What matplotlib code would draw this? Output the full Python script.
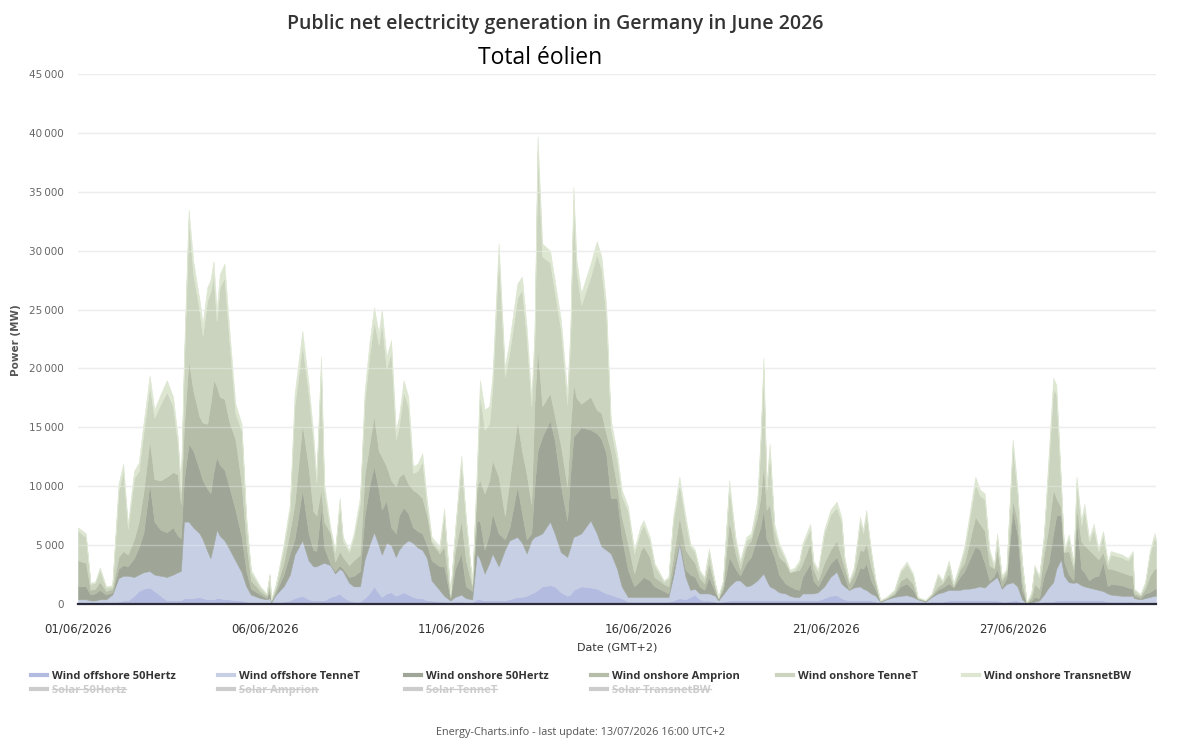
import numpy as np
import matplotlib
matplotlib.use("Agg")
import matplotlib.pyplot as plt
from matplotlib.lines import Line2D
from matplotlib.ticker import FuncFormatter, MultipleLocator

# hours since 01/06/2026 00:00 (GMT+2)
hours = [0, 5, 8, 11, 14, 18, 22, 26, 29, 32,
         36, 39, 42, 46, 49, 53, 57, 61, 64, 66,
         68, 71, 74, 78, 80, 83, 85, 87, 89, 91,
         94, 97, 101, 105, 108, 111, 117, 121, 123, 124,
         127, 132, 136, 139, 144, 148, 151, 153, 156, 158,
         162, 165, 168, 170, 174, 177, 181, 184, 187, 190,
         193, 195, 198, 201, 204, 206, 209, 212, 215, 218,
         221, 224, 227, 232, 235, 239, 242, 246, 249, 253,
         256, 258, 261, 264, 266, 270, 274, 277, 282, 285,
         288, 291, 293, 295, 298, 303, 306, 310, 314, 316,
         318, 320, 323, 329, 333, 336, 339, 342, 346, 349,
         353, 357, 361, 363, 367, 370, 376, 379, 382, 386,
         390, 393, 396, 399, 402, 405, 409, 411, 414, 418,
         422, 425, 429, 432, 436, 438, 440, 442, 444, 447,
         450, 454, 457, 460, 463, 465, 470, 472, 475, 479,
         483, 487, 490, 492, 495, 498, 502, 504, 506, 509,
         512, 515, 519, 524, 528, 532, 536, 539, 544, 548,
         552, 555, 559, 562, 566, 569, 572, 576, 579, 582,
         585, 588, 590, 593, 596, 600, 603, 606, 609, 612,
         614, 617, 620, 623, 626, 628, 631, 633, 636, 639,
         641, 644, 646, 649, 652, 655, 658, 661, 663, 670,
         674, 677, 678, 682, 685, 688, 691, 692]

# stacked levels (MW), bottom layer first
offshore_50hertz = [150, 150, 100, 100, 100, 100, 100, 200, 300, 300,
                    700, 1100, 1300, 1400, 1100, 700, 300, 300, 300, 300,
                    500, 500, 500, 600, 500, 400, 400, 400, 500, 500,
                    400, 400, 300, 300, 200, 150, 100, 100, 100, 50,
                    100, 200, 300, 500, 700, 400, 300, 300, 300, 300,
                    600, 700, 900, 600, 300, 200, 200, 500, 900, 1500,
                    900, 600, 900, 1000, 700, 800, 1000, 800, 600, 500,
                    500, 300, 300, 200, 200, 100, 200, 200, 150, 150,
                    400, 400, 300, 300, 300, 300, 300, 400, 600, 600,
                    700, 900, 1000, 1200, 1500, 1600, 1500, 1000, 700, 800,
                    1200, 1300, 1500, 1400, 1300, 1100, 900, 800, 600, 500,
                    200, 200, 200, 200, 200, 200, 200, 200, 300, 500,
                    400, 600, 800, 400, 300, 300, 200, 100, 200, 300,
                    300, 300, 300, 300, 300, 300, 300, 300, 300, 300,
                    300, 300, 300, 300, 300, 300, 300, 300, 300, 500,
                    700, 750, 500, 400, 300, 300, 300, 300, 300, 300,
                    200, 100, 100, 200, 200, 200, 200, 100, 100, 200,
                    200, 200, 300, 300, 300, 300, 300, 300, 300, 300,
                    300, 300, 300, 200, 200, 300, 300, 100, 20, 50,
                    50, 100, 200, 200, 200, 300, 300, 300, 300, 300,
                    300, 300, 300, 300, 300, 300, 300, 200, 200, 200,
                    200, 200, 150, 100, 150, 150, 150, 150]

top_offshore_tennet = [400, 400, 300, 300, 400, 400, 800, 2200, 2400, 2400,
                       2300, 2500, 2700, 2800, 2500, 2400, 2300, 2500, 2700, 2800,
                       7000, 7000, 6500, 6000, 5500, 4500, 3900, 5000, 6300, 5800,
                       5400, 4700, 3700, 2700, 1500, 800, 500, 400, 500, 150,
                       800, 1500, 2500, 4200, 5400, 3700, 3200, 3200, 3400, 3500,
                       3300, 2600, 3000, 2800, 1800, 1500, 1500, 3800, 5000, 6100,
                       5000, 4200, 5200, 5000, 4000, 4600, 5100, 5400, 5200, 4800,
                       4600, 3900, 2000, 1200, 700, 300, 600, 800, 500, 400,
                       4300, 3800, 2600, 3500, 4300, 3200, 4600, 5400, 5700, 5200,
                       4300, 5400, 5700, 5800, 6000, 7000, 6000, 4400, 4000, 4800,
                       5700, 5800, 6000, 7100, 6000, 4900, 4600, 4300, 3000, 1500,
                       600, 600, 600, 600, 600, 600, 600, 600, 2300, 5150,
                       2300, 1200, 1300, 900, 900, 900, 700, 300, 800, 1500,
                       2000, 2000, 1500, 1600, 2000, 2300, 2600, 2000, 1500, 1300,
                       1000, 900, 700, 600, 600, 900, 900, 900, 1000, 1500,
                       2300, 2750, 1750, 1500, 1200, 1400, 1500, 1300, 1200, 900,
                       700, 200, 400, 600, 700, 750, 600, 400, 200, 600,
                       900, 1000, 1200, 1200, 1200, 1300, 1300, 1400, 1500, 1400,
                       1800, 2100, 2300, 1300, 1700, 1850, 1500, 400, 60, 150,
                       200, 300, 800, 1400, 1850, 3000, 3800, 2400, 1850, 1800,
                       1850, 1600, 1500, 1400, 1300, 1200, 1100, 900, 800, 700,
                       700, 700, 500, 400, 500, 600, 700, 700]

top_onshore_50hertz = [1500, 1500, 800, 900, 1200, 800, 1000, 3000, 3300, 3200,
                       3900, 4800, 6000, 10200, 7000, 6300, 6100, 6500, 5800, 5600,
                       10500, 13600, 13000, 11400, 10500, 9800, 9400, 11200, 12500, 11800,
                       11400, 10000, 8000, 5700, 2800, 1300, 800, 500, 1000, 200,
                       1000, 2500, 4300, 5500, 9700, 6000, 4600, 4500, 8200, 4800,
                       3400, 2800, 3300, 3000, 2300, 2400, 2800, 7500, 10000, 11700,
                       9700, 8000, 8800, 6500, 6000, 7500, 8200, 7700, 6500, 6200,
                       6000, 5000, 3700, 3200, 3200, 500, 3000, 4300, 1500, 1100,
                       7100, 7000, 4600, 6000, 7700, 6000, 5500, 6500, 10000, 7700,
                       5500, 6000, 10000, 13000, 14200, 15600, 13900, 10000, 7100, 11000,
                       14200, 14500, 15000, 14800, 14500, 14000, 12800, 9000, 9000, 5700,
                       2900, 1500, 2000, 2300, 2000, 1500, 1100, 900, 3000, 5400,
                       2900, 2500, 2300, 1500, 1200, 2300, 1000, 450, 1200, 4000,
                       3000, 2400, 3500, 4000, 5700, 6500, 8000, 5500, 5000, 4000,
                       2500, 1750, 1500, 1300, 1200, 2300, 3450, 2000, 1500, 2500,
                       3450, 4000, 3000, 2300, 1200, 1800, 3100, 3000, 3450, 2000,
                       1200, 250, 450, 800, 1500, 1750, 1200, 450, 280, 700,
                       1200, 1400, 1750, 1400, 2300, 2800, 3700, 4900, 4600, 3500,
                       2000, 2400, 3000, 1500, 2200, 7900, 5900, 1200, 80, 300,
                       600, 500, 2400, 3500, 6000, 7500, 7600, 3600, 2500, 2000,
                       7100, 3000, 2700, 2000, 2300, 2400, 3600, 1500, 1700, 1600,
                       1400, 1300, 700, 500, 900, 1000, 1300, 1300]

top_onshore_amprion = [3700, 3500, 1200, 1300, 1900, 1100, 1300, 4000, 4500, 4200,
                       5500, 7000, 9500, 13900, 10600, 10500, 10800, 11200, 11000, 8500,
                       15000, 20700, 18100, 15900, 15400, 15300, 17000, 19000, 18500, 17600,
                       17400, 15500, 14000, 10200, 5200, 2000, 1100, 700, 1600, 300,
                       1300, 3500, 6200, 8500, 15300, 11600, 7900, 7500, 9700, 7000,
                       6000, 3600, 4500, 4000, 3300, 3700, 4200, 11000, 13500, 16000,
                       13000, 12500, 11700, 10500, 10000, 10800, 11100, 10200, 9700, 9400,
                       9000, 7500, 5200, 4300, 4900, 600, 4500, 7100, 3700, 1500,
                       10000, 10500, 9400, 10500, 12200, 10800, 7500, 10500, 15600, 13000,
                       11000, 8500, 17000, 21800, 16800, 17900, 16000, 13400, 10000, 15000,
                       18700, 17500, 17000, 17600, 16500, 16200, 14500, 13000, 10000, 7400,
                       5150, 2600, 4500, 4900, 4000, 2300, 1700, 1500, 4000, 7400,
                       4600, 4000, 3500, 2200, 1750, 3500, 1400, 500, 1500, 7100,
                       4300, 2900, 4900, 5400, 7400, 9000, 11900, 8000, 8500, 5400,
                       4000, 3500, 2700, 2800, 2900, 3450, 5150, 3000, 2000, 3500,
                       4600, 5400, 4000, 3100, 1750, 2500, 4600, 4500, 5150, 3200,
                       1750, 280, 500, 900, 2000, 2300, 1700, 500, 300, 800,
                       1500, 1750, 2600, 1500, 2900, 3500, 5150, 7400, 6800, 6200,
                       3300, 3000, 4700, 2000, 2600, 8800, 7100, 1850, 90, 600,
                       1700, 1300, 4200, 6500, 9700, 9000, 8200, 4400, 4500, 3000,
                       8200, 5300, 5000, 4600, 4200, 3800, 4400, 3000, 3000, 2700,
                       2500, 2400, 900, 700, 1300, 2400, 3000, 3000]

top_onshore_tennet = [6200, 5700, 1700, 1800, 2900, 1400, 1500, 9600, 11300, 6400,
                      10700, 11300, 14500, 18500, 15800, 17000, 18000, 16800, 13600, 9500,
                      20000, 32500, 28000, 24800, 22800, 25800, 26500, 27900, 24000, 26900,
                      27700, 22500, 16200, 14700, 7000, 2700, 1400, 850, 2400, 380,
                      1600, 4800, 8000, 16800, 22000, 17800, 13800, 10300, 20000, 9700,
                      6200, 4400, 8500, 5400, 4400, 5700, 8600, 17300, 21000, 24000,
                      22000, 23900, 20000, 21400, 14000, 15100, 18000, 16700, 11100, 11300,
                      12100, 8300, 5400, 4600, 7700, 850, 6000, 12000, 7000, 1700,
                      10700, 17800, 14800, 15300, 18300, 29600, 19300, 21400, 26000, 26700,
                      22500, 16800, 22000, 38500, 29500, 29000, 26500, 23200, 17000, 22300,
                      34300, 28200, 25400, 27800, 29700, 28400, 24500, 14900, 12200, 9200,
                      7900, 4300, 6200, 6700, 5400, 3300, 1900, 2200, 7000, 10200,
                      7000, 4900, 4400, 2750, 2200, 4400, 1650, 570, 1900, 9900,
                      5400, 3500, 5400, 5700, 8300, 13200, 20000, 9700, 12900, 6400,
                      4900, 3800, 2750, 2900, 3500, 4900, 6400, 3500, 2750, 6000,
                      7600, 8200, 7000, 3800, 1900, 2900, 7000, 6000, 7600, 4400,
                      1900, 320, 570, 1150, 2750, 3400, 2450, 570, 320, 850,
                      2450, 1900, 3500, 1650, 3250, 4600, 7000, 10200, 9200, 8900,
                      4450, 3100, 5700, 2250, 2850, 13400, 9400, 3400, 95, 950,
                      3100, 2250, 5600, 11800, 18300, 17800, 10000, 4450, 5600, 3400,
                      10300, 6700, 8000, 5300, 6400, 4450, 5900, 3400, 4200, 3950,
                      3700, 4250, 1200, 800, 1750, 4250, 5700, 5200]

total = [6500, 6000, 1800, 1900, 3100, 1500, 1600, 10200, 11900, 6800,
         11300, 12000, 15300, 19400, 16500, 17800, 19000, 17600, 14200, 10000,
         21000, 33500, 29100, 25800, 23800, 26900, 27500, 29100, 24900, 28000,
         28900, 23500, 17000, 15300, 7400, 2900, 1500, 900, 2600, 400,
         1700, 5100, 8500, 17800, 23200, 18700, 14500, 10800, 21000, 10200,
         6500, 4600, 9000, 5700, 4600, 6000, 9100, 18100, 22100, 25200,
         23000, 25000, 21000, 22400, 14800, 15900, 19000, 17600, 11700, 11900,
         12800, 8800, 5700, 4900, 8100, 900, 6300, 12600, 7400, 1800,
         11400, 19000, 16500, 16800, 19300, 30600, 20100, 22400, 27200, 27800,
         23500, 17600, 23000, 39700, 30600, 30000, 27500, 24100, 17900, 23300,
         35400, 29200, 26400, 28900, 30800, 29500, 25500, 15600, 12800, 9700,
         8300, 4600, 6600, 7100, 5700, 3500, 2000, 2300, 7400, 10800,
         7400, 5150, 4600, 2900, 2300, 4700, 1750, 600, 2000, 10500,
         5700, 3700, 5700, 6000, 8800, 13900, 20900, 10200, 13600, 6800,
         5150, 4000, 2900, 3100, 3700, 5150, 6800, 3700, 2900, 6300,
         8000, 8700, 7400, 4000, 2000, 3100, 7400, 6300, 8000, 4600,
         2000, 340, 600, 1200, 2900, 3600, 2600, 600, 340, 900,
         2600, 2000, 3700, 1750, 3450, 4900, 7400, 10800, 9700, 9400,
         4700, 3300, 6000, 2400, 3000, 14000, 9900, 3600, 100, 1000,
         3300, 2400, 5900, 12500, 19200, 18600, 10500, 4700, 5900, 3600,
         10800, 7100, 8500, 5600, 6800, 4700, 6200, 3600, 4500, 4200,
         3900, 4500, 1300, 840, 1850, 4500, 6000, 5500]

series_names = ["Wind offshore 50Hertz", "Wind offshore TenneT", "Wind onshore 50Hertz",
                "Wind onshore Amprion", "Wind onshore TenneT", "Wind onshore TransnetBW"]
hidden_names = ["Solar 50Hertz", "Solar Amprion", "Solar TenneT", "Solar TransnetBW"]
tick_hours = [0, 120, 240, 360, 480, 600]
tick_labels = ["01/06/2026", "06/06/2026", "11/06/2026", "16/06/2026", "21/06/2026", "27/06/2026"]

colors = ["#b3bbe0", "#c6cfe4", "#9fa597", "#b5bda8", "#cad4be", "#dce6d1"]

levels = np.array([offshore_50hertz, top_offshore_tennet, top_onshore_50hertz,
                   top_onshore_amprion, top_onshore_tennet, total], dtype=float)
series = np.diff(np.vstack([np.zeros(len(hours)), levels]), axis=0).clip(min=0)

W, H = 1183, 746
fig = plt.figure(figsize=(W / 100, H / 100), dpi=100)
ax = fig.add_axes([78 / W, 1 - 604 / H, (1156 - 78) / W, (604 - 74) / H])

for y in range(5000, 45001, 5000):
    ax.axhline(y, color="#e6e6e6", lw=1, zorder=0)
polys = ax.stackplot(hours, series, colors=colors, zorder=1)
for p, c in zip(polys, colors):
    p.set_edgecolor(c)
    p.set_linewidth(0.4)
for y in range(5000, 45001, 5000):
    ax.axhline(y, color="white", lw=1, alpha=0.3, zorder=2)
ax.axhline(0, color="#2b2b3a", lw=1.6, zorder=5, clip_on=False)

ax.set_xlim(0, 692)
ax.set_ylim(0, 45000)
for s in ax.spines.values():
    s.set_visible(False)
ax.yaxis.set_major_locator(MultipleLocator(5000))
ax.yaxis.set_major_formatter(FuncFormatter(lambda v, _: f"{int(v):,}".replace(",", "\u2009")))
ax.set_xticks(tick_hours)
ax.set_xticklabels(tick_labels)
ax.tick_params(axis="y", length=0, pad=10, labelsize=7.5, labelcolor="#666666")
ax.tick_params(axis="x", length=0, pad=13, labelsize=8.5, labelcolor="#333333")

fig.text(16 / W, 1 - 340 / H, "Power (MW)", rotation=90, ha="center", va="center",
         fontsize=7.5, fontweight="bold", color="#555555")
fig.text(617 / W, 1 - 648 / H, "Date (GMT+2)", ha="center", va="center",
         fontsize=8, color="#333333")

fig.text(555 / W, 1 - 24 / H, "Public net electricity generation in Germany in June 2026",
         ha="center", va="center", fontsize=14, fontweight="semibold",
         family="Open Sans", color="#333333")
fig.text(540 / W, 1 - 58 / H, "Total éolien", ha="center", va="center",
         fontsize=16.5, family="Open Sans", color="black")
fig.text(580 / W, 1 - 733 / H, "Energy-Charts.info - last update: 13/07/2026 16:00 UTC+2",
         ha="center", va="center", fontsize=7.8, family="Open Sans", color="#555555")

# legend drawn by hand (Highcharts style, hidden series struck through)
col_x = [31, 218, 405, 591, 777, 963]
struck = []
for i, name in enumerate(series_names):
    x0 = col_x[i]
    yy = 1 - 675 / H
    fig.add_artist(Line2D([x0 / W, (x0 + 16) / W], [yy, yy], color=colors[i], lw=3))
    fig.text((x0 + 21) / W, 1 - 679 / H, name, ha="left", va="baseline", fontsize=8,
             fontweight="bold", family="Open Sans", color="#333333")
for i, name in enumerate(hidden_names):
    x0 = col_x[i]
    yy = 1 - 689 / H
    fig.add_artist(Line2D([x0 / W, (x0 + 16) / W], [yy, yy], color="#cccccc", lw=3))
    t = fig.text((x0 + 21) / W, 1 - 693 / H, name, ha="left", va="baseline", fontsize=8,
                 fontweight="bold", family="Open Sans", color="#cccccc")
    struck.append((t, yy))

fig.canvas.draw()
for t, yy in struck:
    bb = t.get_window_extent()
    fig.add_artist(Line2D([bb.x0 / fig.bbox.width, bb.x1 / fig.bbox.width], [yy, yy],
                          color="#cccccc", lw=0.9))

fig.savefig("out.png", dpi=100)
